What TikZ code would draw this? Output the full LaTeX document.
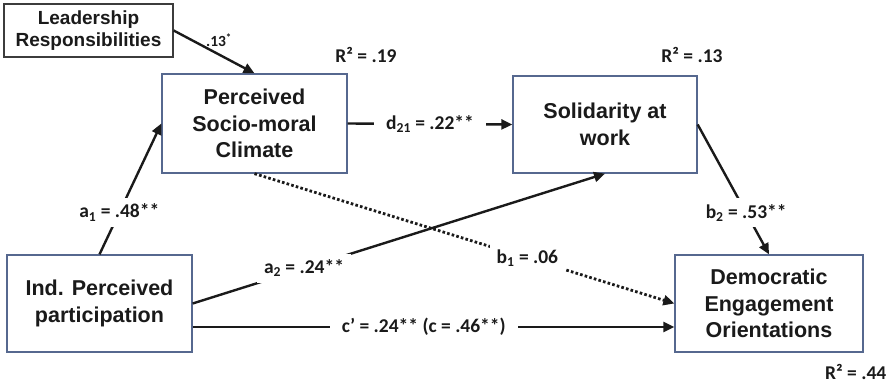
\documentclass[tikz,border=0pt]{standalone}
\usepackage{fontspec}
\setmainfont{Liberation Sans}
\newfontfamily\lblfont{Carlito}
\usetikzlibrary{arrows.meta}
\definecolor{boxblue}{HTML}{56688F}
\definecolor{ink}{HTML}{1A1A1A}
\begin{document}
\begin{tikzpicture}[x=1pt,y=-1pt,
  box/.style={draw=boxblue, line width=1.3pt, fill=white, align=center, text=ink,
    font=\bfseries\fontsize{21.5}{26.5}\selectfont, inner sep=0pt},
  conn/.style={draw=ink, line width=2.4pt, -{Triangle[length=11pt,width=10pt]}},
  dotconn/.style={conn, line width=2.8pt, dash pattern=on 2.6pt off 2.2pt},
  lbl/.style={fill=white, text=ink, font=\lblfont\bfseries\fontsize{19.5}{21}\selectfont,
    inner xsep=7pt, inner ysep=6pt},
  rsq/.style={text=ink, font=\lblfont\bfseries\fontsize{19.5}{22}\selectfont, inner sep=0pt}]
\useasboundingbox (0,0) rectangle (893,385);

\node[box, draw=ink!85, minimum width=169pt, minimum height=53pt,
  font=\bfseries\fontsize{19}{22}\selectfont] (lead) at (88.5,30.5) {Leadership\\Responsibilities};
\node[box, minimum width=185pt, minimum height=99pt] (psc) at (254.5,123.5) {Perceived\\Socio-moral\\Climate};
\node[box, minimum width=184pt, minimum height=97pt] (saw) at (605,124.5) {Solidarity at\\work};
\node[box, minimum width=185pt, minimum height=97pt] (ind) at (99.5,303.5) {Ind. Perceived\\participation};
\node[box, minimum width=188pt, minimum height=97pt] (deo) at (769,303.5) {Democratic\\Engagement\\Orientations};

\draw[conn] (lead.east) -- (psc.north);
\node[rsq, font=\lblfont\bfseries\fontsize{15.5}{18}\selectfont] (l13) at (219,40) {.13\textsuperscript{*}};

\draw[conn] (ind.north) -- node[lbl, pos=0.32] (la1) {a\textsubscript{1} = .48**} (psc.west);
\draw[conn] (psc.east) -- node[lbl, pos=0.5, inner xsep=12pt] (ld21) {d\textsubscript{21} = .22**} (saw.west);
\draw[conn] (ind.east) -- node[lbl, pos=0.27] (la2) {a\textsubscript{2} = .24**} (saw.south);
\draw[dotconn] (psc.south) -- node[lbl, pos=0.65] (lb1) {b\textsubscript{1} = .06} (deo.west);
\draw[conn] (saw.east) -- node[lbl, pos=0.68, inner xsep=3pt] (lb2) {b\textsubscript{2} = .53**} (deo.north);
\draw[conn] ([yshift=-23.5pt]ind.east) -- node[lbl, pos=0.48, inner xsep=12pt] (lc) {c’ = .24** (c = .46**)} ([yshift=-23.5pt]deo.west);

\node[rsq] (r1) at (366,55) {R² = .19};
\node[rsq] (r2) at (692,55) {R² = .13};
\node[rsq, anchor=west] (r3) at (825,372) {R² = .44};
\end{tikzpicture}
\end{document}
